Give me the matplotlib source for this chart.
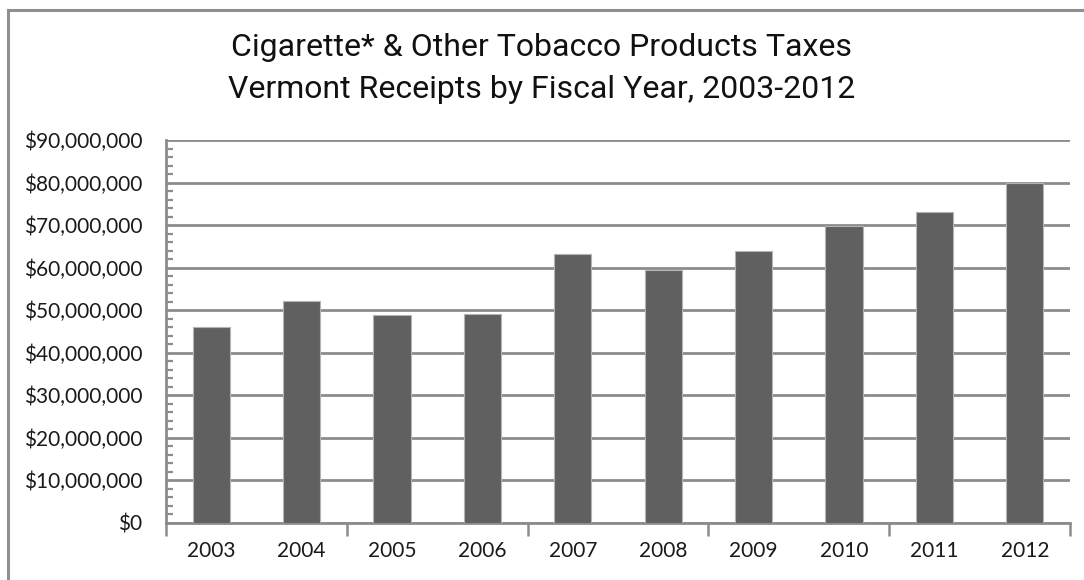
import matplotlib
matplotlib.use("Agg")
import matplotlib.pyplot as plt
from matplotlib.patches import Rectangle
from matplotlib.ticker import FuncFormatter, MultipleLocator

# Fiscal years and receipts (dollars)
years = ["2003", "2004", "2005", "2006", "2007", "2008", "2009", "2010", "2011", "2012"]
receipts = [45_900_000, 52_200_000, 48_800_000, 49_100_000, 63_200_000,
            59_300_000, 63_900_000, 69_800_000, 73_100_000, 79_800_000]

title_lines = ["Cigarette* & Other Tobacco Products Taxes",
               "Vermont Receipts by Fiscal Year, 2003-2012"]

BAR = "#606060"
GRID = "#8c8c8c"
TICK_FONT = ["Lato", "DejaVu Sans"]
TITLE_FONT = ["Roboto", "DejaVu Sans"]

fig = plt.figure(figsize=(10.84, 5.8), dpi=100)
fig.patch.set_facecolor("white")

# outer chart frame (right and bottom edges run off the canvas)
fig.patches.append(Rectangle((8 / 1084, -0.05), 1.2, (580 - 10) / 580 + 0.05,
                             transform=fig.transFigure, fill=False,
                             edgecolor="#8f8f8f", linewidth=2.2, zorder=0))

ax = fig.add_axes([166 / 1084, 57.5 / 580, 904 / 1084, 382.5 / 580])
x = range(len(years))
ax.bar(x, receipts, width=0.41, color=BAR, edgecolor="#b4b4b4",
       linewidth=0.8, zorder=3)

ax.set_xlim(-0.5, len(years) - 0.5)
ax.set_ylim(0, 90_000_000)

# y axis: dollar labels, gridlines every $10M, minor ticks every $2M
ax.yaxis.set_major_locator(MultipleLocator(10_000_000))
ax.yaxis.set_minor_locator(MultipleLocator(2_000_000))
ax.yaxis.set_major_formatter(FuncFormatter(lambda v, p: f"${v:,.0f}"))
ax.grid(axis="y", color=GRID, linewidth=2.0, zorder=1)
ax.tick_params(axis="y", which="major", length=0, pad=17, labelsize=15,
               labelcolor="#1a1a1a")
ax.tick_params(axis="y", which="minor", direction="in", length=5,
               width=1.6, color=GRID)

# x axis: year labels at bar centres, tick marks every second boundary
ax.set_xticks([i - 0.5 for i in range(0, len(years) + 1, 2)])
ax.set_xticklabels([])
ax.set_xticks(list(x), minor=True)
ax.set_xticklabels(years, minor=True)
ax.tick_params(axis="x", which="major", direction="out", length=9,
               width=1.8, color=GRID)
ax.tick_params(axis="x", which="minor", length=0, pad=13, labelsize=15,
               labelcolor="#1a1a1a")

for lab in ax.get_yticklabels() + ax.get_xticklabels(minor=True):
    lab.set_family(TICK_FONT)

for side in ("top", "right"):
    ax.spines[side].set_visible(False)
for side in ("left", "bottom"):
    ax.spines[side].set_color(GRID)
    ax.spines[side].set_linewidth(2.0)

fig.text(0.4995, 1 - 48 / 580, title_lines[0], ha="center", va="center",
         fontsize=23, family=TITLE_FONT, color="#111111")
fig.text(0.4995, 1 - 90 / 580, title_lines[1], ha="center", va="center",
         fontsize=23, family=TITLE_FONT, color="#111111")

fig.savefig("out.png", dpi=100, facecolor="white")
